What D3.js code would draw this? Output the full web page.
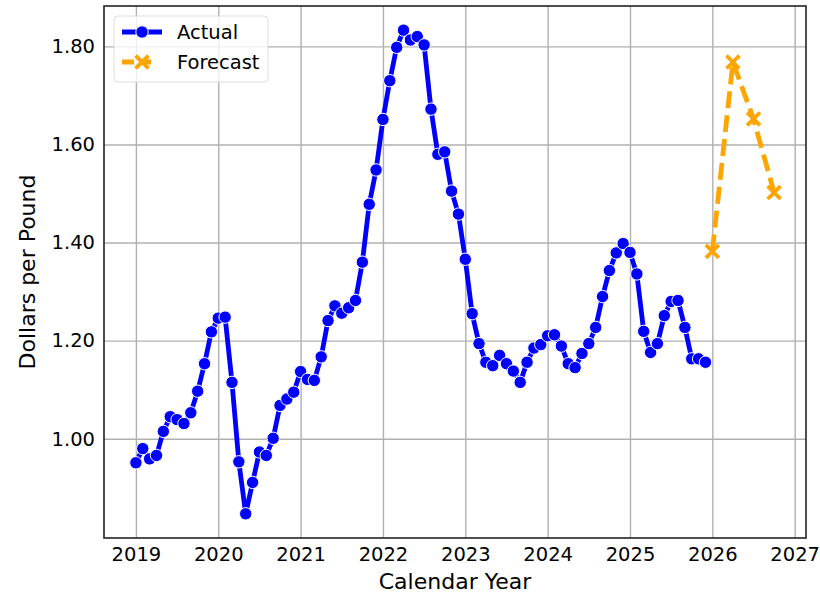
<!DOCTYPE html>
<html>
<head>
<meta charset="utf-8">
<script src="https://cdn.jsdelivr.net/npm/d3@7"></script>
<style>
  body { margin: 0; background: #fff; }
  text { font-family: "DejaVu Sans", sans-serif; }
</style>
</head>
<body>
<script>
// monthly actual prices, Jan 2019 .. Dec 2025
const actualStart = 2019;
const actualValues = [
  0.951, 0.980, 0.959, 0.966, 1.015, 1.045, 1.039, 1.031, 1.053, 1.097, 1.153, 1.218,
  1.246, 1.248, 1.115, 0.953, 0.847, 0.911, 0.973, 0.966, 1.001, 1.068, 1.081, 1.095,
  1.137, 1.121, 1.119, 1.167, 1.241, 1.271, 1.256, 1.267, 1.282, 1.360, 1.478, 1.548,
  1.651, 1.730, 1.798, 1.833, 1.813, 1.820, 1.803, 1.672, 1.580, 1.585, 1.505, 1.458,
  1.366, 1.255, 1.194, 1.156, 1.149, 1.170, 1.153, 1.138, 1.115, 1.156, 1.185, 1.192,
  1.210, 1.212, 1.189, 1.153, 1.145, 1.174, 1.194, 1.227, 1.290, 1.343, 1.379, 1.398,
  1.380, 1.336, 1.219, 1.176, 1.194, 1.251, 1.280, 1.282, 1.227, 1.163, 1.163, 1.156
];
// quarterly forecast
const forecastYears = [2026, 2026.25, 2026.5, 2026.75];
const forecastValues = [1.382, 1.768, 1.652, 1.502];

const xTicks = [2019, 2020, 2021, 2022, 2023, 2024, 2025, 2026, 2027];
const yTicks = [1.0, 1.2, 1.4, 1.6, 1.8];

const actual = actualValues.map((v, i) => ({x: actualStart + i / 12, y: v}));
const forecast = forecastValues.map((v, i) => ({x: forecastYears[i], y: v}));

const w = 820, h = 596;
const pLeft = 104, pRight = 806, pTop = 6, pBottom = 538;

const svg = d3.select("body").append("svg")
  .attr("width", w)
  .attr("height", h);

svg.append("rect").attr("width", w).attr("height", h).attr("fill", "#fff");

// matplotlib-like 5% margins
const all = actual.concat(forecast);
const xe = d3.extent(all, d => d.x), ye = d3.extent(all, d => d.y);
const xm = (xe[1] - xe[0]) * 0.05, ym = (ye[1] - ye[0]) * 0.05;

const x = d3.scaleLinear().domain([xe[0] - xm, xe[1] + xm]).range([pLeft, pRight]);
const y = d3.scaleLinear().domain([ye[0] - ym, ye[1] + ym]).range([pBottom, pTop]);

// grid
svg.append("g")
  .attr("transform", `translate(0,${pBottom})`)
  .call(d3.axisBottom(x).tickValues(xTicks).tickSize(-(pBottom - pTop)).tickFormat(""))
  .call(g => g.select(".domain").remove())
  .selectAll("line").attr("stroke", "#b0b0b0").attr("stroke-width", 1.4);

svg.append("g")
  .attr("transform", `translate(${pLeft},0)`)
  .call(d3.axisLeft(y).tickValues(yTicks).tickSize(-(pRight - pLeft)).tickFormat(""))
  .call(g => g.select(".domain").remove())
  .selectAll("line").attr("stroke", "#b0b0b0").attr("stroke-width", 1.4);

// tick labels
const xAxis = svg.append("g")
  .attr("transform", `translate(0,${pBottom})`)
  .call(d3.axisBottom(x).tickValues(xTicks).tickSize(0).tickPadding(9).tickFormat(d3.format("d")));
xAxis.select(".domain").remove();
xAxis.selectAll("text").attr("font-size", 19.5).attr("fill", "#000");

const yAxis = svg.append("g")
  .attr("transform", `translate(${pLeft},0)`)
  .call(d3.axisLeft(y).tickValues(yTicks).tickSize(0).tickPadding(9).tickFormat(d3.format(".2f")));
yAxis.select(".domain").remove();
yAxis.selectAll("text").attr("font-size", 19.5).attr("fill", "#000");

// axis labels
svg.append("text")
  .attr("x", (pLeft + pRight) / 2)
  .attr("y", 589)
  .attr("text-anchor", "middle")
  .attr("font-size", 22)
  .text("Calendar Year");

svg.append("text")
  .attr("transform", `translate(35,${(pTop + pBottom) / 2}) rotate(-90)`)
  .attr("text-anchor", "middle")
  .attr("font-size", 22)
  .text("Dollars per Pound");

const line = d3.line().x(d => x(d.x)).y(d => y(d.y));

// actual series
svg.append("path")
  .datum(actual)
  .attr("d", line)
  .attr("fill", "none")
  .attr("stroke", "blue")
  .attr("stroke-width", 4.8)
  .attr("stroke-linejoin", "round");

svg.append("g").selectAll("circle")
  .data(actual)
  .enter()
  .append("circle")
  .attr("cx", d => x(d.x))
  .attr("cy", d => y(d.y))
  .attr("r", 6.2)
  .attr("fill", "blue")
  .attr("stroke", "#fff")
  .attr("stroke-width", 1);

// forecast series
svg.append("path")
  .datum(forecast)
  .attr("d", line)
  .attr("fill", "none")
  .attr("stroke", "orange")
  .attr("stroke-width", 4.8)
  .attr("stroke-dasharray", "17,7");

const cross = d3.symbol().type(d3.symbolX).size(110);
svg.append("g").selectAll("path")
  .data(forecast)
  .enter()
  .append("path")
  .attr("d", cross)
  .attr("transform", d => `translate(${x(d.x)},${y(d.y)})`)
  .attr("stroke", "orange")
  .attr("stroke-width", 3.8)
  .attr("fill", "none");

// frame
svg.append("rect")
  .attr("x", pLeft).attr("y", pTop)
  .attr("width", pRight - pLeft).attr("height", pBottom - pTop)
  .attr("fill", "none")
  .attr("stroke", "#222")
  .attr("stroke-width", 1.6);

// legend
const lg = svg.append("g");
lg.append("rect")
  .attr("x", 114).attr("y", 16)
  .attr("width", 154).attr("height", 66)
  .attr("rx", 4)
  .attr("fill", "#fff").attr("fill-opacity", 0.8)
  .attr("stroke", "#ddd");

lg.append("line")
  .attr("x1", 122).attr("x2", 162).attr("y1", 32).attr("y2", 32)
  .attr("stroke", "blue").attr("stroke-width", 4.8);
lg.append("circle")
  .attr("cx", 142).attr("cy", 32).attr("r", 6.2)
  .attr("fill", "blue").attr("stroke", "#fff").attr("stroke-width", 1);
lg.append("text")
  .attr("x", 177).attr("y", 32).attr("dy", "0.35em")
  .attr("font-size", 19.5).text("Actual");

lg.append("line")
  .attr("x1", 122).attr("x2", 162).attr("y1", 62).attr("y2", 62)
  .attr("stroke", "orange").attr("stroke-width", 4.8)
  .attr("stroke-dasharray", "12,5,12");
lg.append("path")
  .attr("d", cross)
  .attr("transform", "translate(142,62)")
  .attr("stroke", "orange").attr("stroke-width", 3.8).attr("fill", "none");
lg.append("text")
  .attr("x", 177).attr("y", 62).attr("dy", "0.35em")
  .attr("font-size", 19.5).text("Forecast");
</script>
</body>
</html>
